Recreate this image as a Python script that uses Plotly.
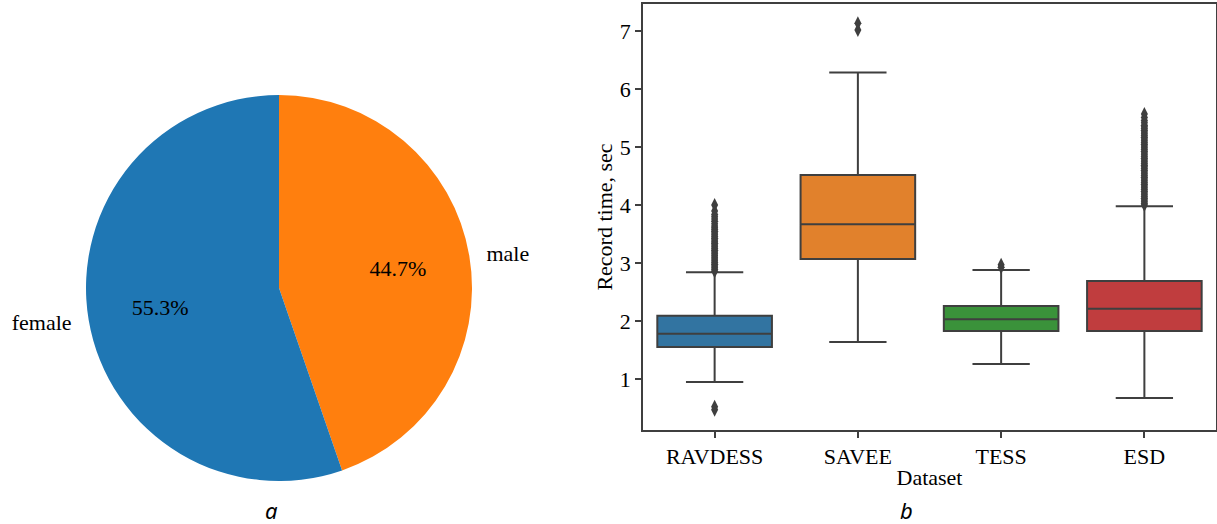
import plotly.graph_objects as go

# ---- Pie data ----
pie_labels = ["female", "male"]
pie_values = [55.3, 44.7]
pie_colors = ["#1f77b4", "#ff7f0e"]

# ---- Box data ----
datasets = ["RAVDESS", "SAVEE", "TESS", "ESD"]
q1 = [1.55, 3.07, 1.83, 1.83]
median = [1.78, 3.67, 2.03, 2.21]
q3 = [2.09, 4.52, 2.26, 2.69]
lower_whisker = [0.95, 1.64, 1.26, 0.67]
upper_whisker = [2.84, 6.29, 2.88, 3.98]
box_colors = ["#3274a1", "#e1812c", "#3a923a", "#c03d3e"]

outliers_ravdess = [0.47, 0.52, 2.86, 2.89, 2.92, 2.95, 2.98, 3.01, 3.04, 3.07, 3.10, 3.13,
                    3.16, 3.19, 3.22, 3.25, 3.28, 3.31, 3.34, 3.37, 3.40, 3.43, 3.46, 3.49,
                    3.52, 3.55, 3.58, 3.61, 3.64, 3.68, 3.72, 3.76, 3.80, 3.84, 3.90, 4.00]
outliers_savee = [7.02, 7.14]
outliers_tess = [2.93, 2.97]
outliers_esd = [4.00, 4.03, 4.06, 4.09, 4.12, 4.15, 4.18, 4.21, 4.24, 4.27, 4.30, 4.33,
                4.36, 4.39, 4.42, 4.45, 4.48, 4.51, 4.54, 4.57, 4.60, 4.63, 4.66, 4.69,
                4.72, 4.75, 4.78, 4.81, 4.84, 4.87, 4.90, 4.93, 4.96, 4.99, 5.02, 5.05,
                5.08, 5.11, 5.14, 5.17, 5.20, 5.23, 5.26, 5.29, 5.32, 5.35, 5.38, 5.42,
                5.46, 5.51, 5.57]
outliers = [outliers_ravdess, outliers_savee, outliers_tess, outliers_esd]

SERIF = "Liberation Serif"
LINE = "#3f3f3f"
FS = 22
W, H = 1217, 524

# pie order: plotly draws the first slice clockwise from 12 o'clock here,
# so male goes first to put it on the right like the reference
p_labels = pie_labels[::-1]
p_values = pie_values[::-1]
p_colors = pie_colors[::-1]

cx, cy, r = 279, 288, 193


def dom(rad):
    return dict(x=[(cx - rad) / W, (cx + rad) / W], y=[1 - (cy + rad) / H, 1 - (cy - rad) / H])


fig = go.Figure()
fig.add_trace(go.Pie(
    labels=p_labels, values=p_values, sort=False, direction="counterclockwise",
    marker=dict(colors=p_colors, line=dict(width=0)), textinfo="none",
    domain=dom(r), showlegend=False, hoverinfo="skip",
))
fig.add_trace(go.Pie(
    labels=p_labels, values=p_values, sort=False, direction="counterclockwise", hole=0.25,
    marker=dict(colors=["rgba(0,0,0,0)"] * 2, line=dict(width=0)),
    texttemplate="%{percent:.1%}", textposition="inside", insidetextorientation="horizontal",
    textfont=dict(family=SERIF, size=FS, color="black"),
    domain=dom(r), showlegend=False, hoverinfo="skip",
))
fig.add_trace(go.Pie(
    labels=p_labels, values=p_values, sort=False, direction="counterclockwise",
    marker=dict(colors=["rgba(0,0,0,0)"] * 2, line=dict(width=0)),
    textinfo="label", textposition="outside",
    outsidetextfont=dict(family=SERIF, size=FS, color="black"),
    domain=dom(r + 11), showlegend=False, hoverinfo="skip",
))

for i, name in enumerate(datasets):
    fig.add_trace(go.Box(
        x=[name], q1=[q1[i]], median=[median[i]], q3=[q3[i]],
        lowerfence=[lower_whisker[i]], upperfence=[upper_whisker[i]],
        fillcolor=box_colors[i], line=dict(color=LINE, width=2),
        width=0.8, whiskerwidth=0.5, boxpoints=False, showlegend=False,
        xaxis="x", yaxis="y",
    ))
    fig.add_trace(go.Scatter(
        x=[name] * len(outliers[i]), y=outliers[i], mode="markers",
        marker=dict(symbol="diamond-tall", size=10, color=LINE, line=dict(width=0)),
        showlegend=False, xaxis="x", yaxis="y",
    ))

fig.update_layout(
    width=W, height=H,
    margin=dict(l=0, r=0, t=0, b=0),
    paper_bgcolor="white", plot_bgcolor="white",
    font=dict(family=SERIF, size=FS, color="black"),
    xaxis=dict(domain=[643 / W, 1216 / W], anchor="y", categoryorder="array",
               categoryarray=datasets, range=[-0.5, 3.5], automargin=False,
               showline=True, linecolor=LINE, linewidth=1.5, mirror=True,
               ticks="outside", ticklen=6, tickwidth=1.5, tickcolor=LINE,
               showgrid=False, zeroline=False,
               tickfont=dict(family=SERIF, size=FS, color="black"),
               title=dict(text="Dataset", font=dict(family=SERIF, size=FS, color="black"),
                          standoff=1)),
    yaxis=dict(domain=[1 - 430 / H, 1 - 4 / H], anchor="x", range=[0.12, 7.47],
               tickvals=[1, 2, 3, 4, 5, 6, 7], automargin=False,
               showline=True, linecolor=LINE, linewidth=1.5, mirror=True,
               ticks="outside", ticklen=6, tickwidth=1.5, tickcolor=LINE,
               showgrid=False, zeroline=False,
               tickfont=dict(family=SERIF, size=FS, color="black"),
               title=dict(text="Record time, sec", font=dict(family=SERIF, size=FS, color="black"),
                          standoff=1)),
    annotations=[
        dict(text="<i>a</i>", x=271 / W, y=1 - 510 / H, xref="paper", yref="paper",
             showarrow=False, font=dict(family="Noto Sans", size=22, color="black"),
             xanchor="center", yanchor="middle"),
        dict(text="<i>b</i>", x=906 / W, y=1 - 510 / H, xref="paper", yref="paper",
             showarrow=False, font=dict(family="Noto Sans", size=22, color="black"),
             xanchor="center", yanchor="middle"),
    ],
)

fig.write_html("out.html", config={"displayModeBar": False},
               post_script="document.body.style.margin='0';")
